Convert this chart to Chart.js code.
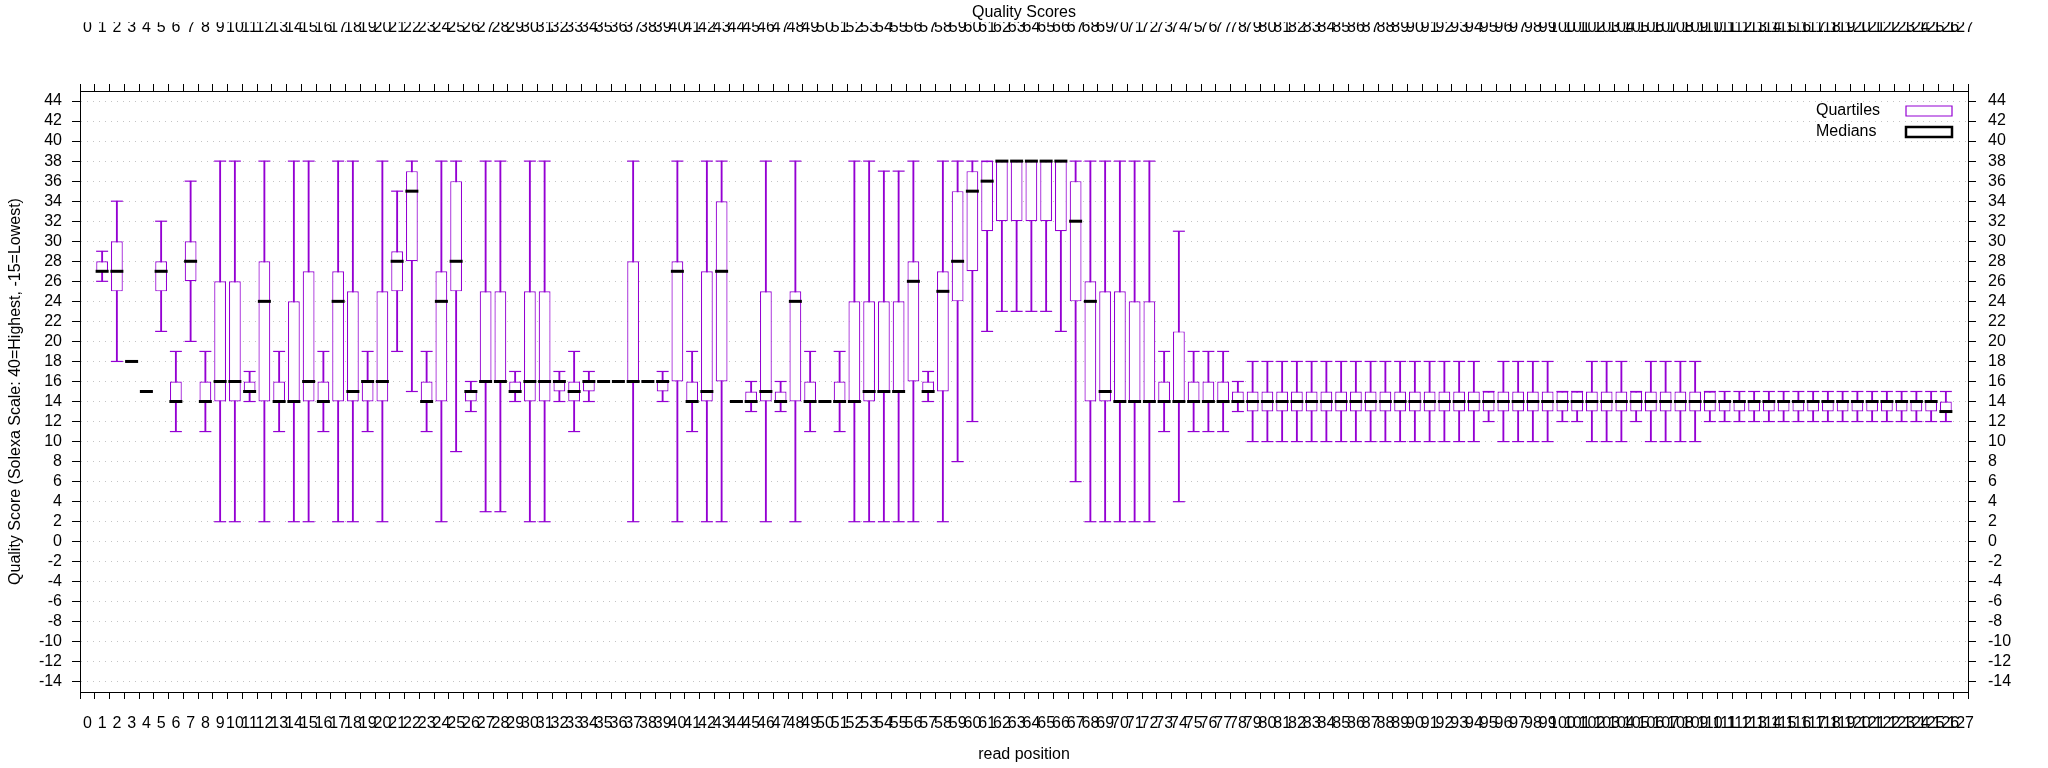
<!DOCTYPE html>
<html>
<head>
<meta charset="utf-8">
<script src="https://cdn.jsdelivr.net/npm/chart.js@4.4.1/dist/chart.umd.min.js"></script>
<style>
html,body{margin:0;padding:0;background:#ffffff;}
canvas{display:block;}
</style>
</head>
<body>
<canvas id="chart" width="2048" height="768"></canvas>
<script>
// ---- data ----
const positions = [1,2,3,4,5,6,7,8,9,10,11,12,13,14,15,16,17,18,19,20,21,22,23,24,25,26,27,28,29,30,31,32,33,34,35,36,37,38,39,40,41,42,43,44,45,46,47,48,49,50,51,52,53,54,55,56,57,58,59,60,61,62,63,64,65,66,67,68,69,70,71,72,73,74,75,76,77,78,79,80,81,82,83,84,85,86,87,88,89,90,91,92,93,94,95,96,97,98,99,100,101,102,103,104,105,106,107,108,109,110,111,112,113,114,115,116,117,118,119,120,121,122,123,124,125,126];

const whiskerLow = [
 26,18,18,15,21,11,20,11,2,2,
 14,2,11,2,2,11,2,2,11,2,
 19,15,11,2,9,13,3,3,14,2,
 2,14,11,14,16,16,2,16,14,2,
 11,2,2,14,13,2,13,2,11,14,
 11,2,2,2,2,2,14,2,8,12,
 21,23,23,23,23,21,6,2,2,2,
 2,2,11,4,11,11,11,13,10,10,
 10,10,10,10,10,10,10,10,10,10,
 10,10,10,10,12,10,10,10,10,12,
 12,10,10,10,12,10,10,10,10,12,
 12,12,12,12,12,12,12,12,12,12,
 12,12,12,12,12,12];

const quartile1 = [
 27,25,18,15,25,14,26,14,14,14,
 15,14,14,14,14,14,14,14,14,14,
 25,28,14,14,25,14,16,16,15,14,
 14,15,14,15,16,16,16,16,15,16,
 14,14,16,14,14,14,14,14,14,14,
 14,14,14,15,15,16,15,15,24,27,
 31,32,32,32,32,31,24,14,14,14,
 14,14,14,14,14,14,14,14,13,13,
 13,13,13,13,13,13,13,13,13,13,
 13,13,13,13,13,13,13,13,13,13,
 13,13,13,13,13,13,13,13,13,13,
 13,13,13,13,13,13,13,13,13,13,
 13,13,13,13,13,13];

const medians = [
 27,27,18,15,27,14,28,14,16,16,
 15,24,14,14,16,14,24,15,16,16,
 28,35,14,24,28,15,16,16,15,16,
 16,16,15,16,16,16,16,16,16,27,
 14,15,27,14,14,15,14,24,14,14,
 14,14,15,15,15,26,15,25,28,35,
 36,38,38,38,38,38,32,24,15,14,
 14,14,14,14,14,14,14,14,14,14,
 14,14,14,14,14,14,14,14,14,14,
 14,14,14,14,14,14,14,14,14,14,
 14,14,14,14,14,14,14,14,14,14,
 14,14,14,14,14,14,14,14,14,14,
 14,14,14,14,14,13];

const quartile3 = [
 28,30,18,15,28,16,30,16,26,26,
 16,28,16,24,27,16,27,25,16,25,
 29,37,16,27,36,15,25,25,16,25,
 25,16,16,16,16,16,28,16,16,28,
 16,27,34,14,15,25,15,25,16,14,
 16,24,24,24,24,28,16,27,35,37,
 38,38,38,38,38,38,36,26,25,25,
 24,24,16,21,16,16,16,15,15,15,
 15,15,15,15,15,15,15,15,15,15,
 15,15,15,15,15,15,15,15,15,15,
 15,15,15,15,15,15,15,15,15,15,
 14,14,14,14,14,14,14,14,14,14,
 14,14,14,14,14,14];

const whiskerHigh = [
 29,34,18,15,32,19,36,19,38,38,
 17,38,19,38,38,19,38,38,19,38,
 35,38,19,38,38,16,38,38,17,38,
 38,17,19,17,16,16,38,16,17,38,
 19,38,38,14,16,38,16,38,19,14,
 19,38,38,37,37,38,17,38,38,38,
 38,38,38,38,38,38,38,38,38,38,
 38,38,19,31,19,19,19,16,18,18,
 18,18,18,18,18,18,18,18,18,18,
 18,18,18,18,15,18,18,18,18,15,
 15,18,18,18,15,18,18,18,18,15,
 15,15,15,15,15,15,15,15,15,15,
 15,15,15,15,15,15];

const xTickValues = [0,1,2,3,4,5,6,7,8,9,10,11,12,13,14,15,16,17,18,19,20,21,22,23,24,25,26,27,28,29,30,31,32,33,34,35,36,37,38,39,40,41,42,43,44,45,46,47,48,49,50,51,52,53,54,55,56,57,58,59,60,61,62,63,64,65,66,67,68,69,70,71,72,73,74,75,76,77,78,79,80,81,82,83,84,85,86,87,88,89,90,91,92,93,94,95,96,97,98,99,100,101,102,103,104,105,106,107,108,109,110,111,112,113,114,115,116,117,118,119,120,121,122,123,124,125,126,127];
const yTickValues = [-14,-12,-10,-8,-6,-4,-2,0,2,4,6,8,10,12,14,16,18,20,22,24,26,28,30,32,34,36,38,40,42,44];

const chartTitle = 'Quality Scores';
const xAxisTitle = 'read position';
const yAxisTitle = 'Quality Score (Solexa Scale: 40=Highest, -15=Lowest)';
const legendLabels = ['Quartiles', 'Medians'];

// ---- styling ----
const PURPLE = '#9400d3';
const FONT = "'Liberation Sans', Arial, sans-serif";
const XTICK_FONT = "'Liberation Sans Narrow', 'Liberation Sans', sans-serif";

Chart.defaults.font.family = FONT;
Chart.defaults.color = '#000000';

// build library datasets from the arrays
const boxData = positions.map((p, i) => ({x: p, y: [quartile1[i], quartile3[i]]}));
const whiskerData = positions.map((p, i) => ({x: p, y: [whiskerLow[i], whiskerHigh[i]]}));
const medianData = positions.map((p, i) => ({x: p, y: medians[i]}));
const capData = [];
positions.forEach((p, i) => {
  capData.push({x: p, y: whiskerLow[i]});
  capData.push({x: p, y: whiskerHigh[i]});
});

const setTicks = (values) => (scale) => { scale.ticks = values.map(v => ({value: v})); };

const legendPlacer = {
  id: 'legendPlacer',
  beforeDraw(chart) {
    const lg = chart.legend;
    const ca = chart.chartArea;
    if (!lg || !ca) return;
    lg.left = ca.right - 152;
    lg.width = 141;
    lg.right = lg.left + lg.width;
    lg.top = ca.top + 7;
    lg.height = 60;
    lg.bottom = lg.top + lg.height;
  }
};

new Chart(document.getElementById('chart'), {
  type: 'bar',
  data: {
    datasets: [
      {
        type: 'scatter',
        label: legendLabels[1],
        data: medianData,
        order: 0,
        pointStyle: 'line',
        pointRadius: 6.5,
        pointHoverRadius: 6.5,
        pointBorderWidth: 3,
        pointBorderColor: '#000000',
        pointBackgroundColor: '#000000',
        borderColor: '#000000'
      },
      {
        type: 'scatter',
        label: 'caps',
        data: capData,
        order: 1,
        pointStyle: 'line',
        pointRadius: 6,
        pointHoverRadius: 6,
        pointBorderWidth: 1.2,
        pointBorderColor: PURPLE,
        borderColor: PURPLE
      },
      {
        type: 'bar',
        label: legendLabels[0],
        data: boxData,
        order: 2,
        grouped: false,
        backgroundColor: '#ffffff',
        borderColor: PURPLE,
        borderWidth: 1.2,
        borderSkipped: false,
        barPercentage: 0.8,
        categoryPercentage: 1.0
      },
      {
        type: 'bar',
        label: 'whiskers',
        data: whiskerData,
        order: 3,
        grouped: false,
        backgroundColor: PURPLE,
        borderWidth: 0,
        barThickness: 1.2
      }
    ]
  },
  options: {
    responsive: false,
    animation: false,
    devicePixelRatio: 1,
    layout: {padding: 0},
    plugins: {
      tooltip: {enabled: false},
      title: {
        display: true,
        text: chartTitle,
        color: '#000000',
        font: {family: FONT, size: 16, weight: 'normal'},
        padding: {top: 3, bottom: 0}
      },
      legend: {
        display: true,
        position: 'chartArea',
        align: 'start',
        rtl: true,
        labels: {
          boxWidth: 46,
          boxHeight: 10,
          padding: 5,
          textAlign: 'right',
          color: '#000000',
          font: {family: FONT, size: 16},
          generateLabels: () => [
            {text: legendLabels[0], fillStyle: 'rgba(255,255,255,0)', strokeStyle: PURPLE, lineWidth: 1.2, hidden: false, datasetIndex: 2, fontColor: '#000000'},
            {text: legendLabels[1], fillStyle: 'rgba(255,255,255,0)', strokeStyle: '#000000', lineWidth: 2.5, hidden: false, datasetIndex: 0, fontColor: '#000000'}
          ]
        }
      }
    },
    scales: {
      x: {
        type: 'linear',
        position: 'bottom',
        min: 0,
        max: 127,
        afterBuildTicks: setTicks(xTickValues),
        afterFit: (s) => { s.height = 76; },
        ticks: {autoSkip: false, maxRotation: 0, minRotation: 0, padding: 15, color: '#000000', font: {family: XTICK_FONT, size: 16}},
        grid: {drawOnChartArea: false, drawTicks: true, tickLength: 7, tickColor: '#000000', tickWidth: 1},
        border: {display: true, color: '#000000', width: 1},
        title: {display: true, text: xAxisTitle, color: '#000000', font: {family: FONT, size: 16}, padding: {top: 0, bottom: 4}}
      },
      x2: {
        type: 'linear',
        position: 'top',
        min: 0,
        max: 127,
        afterBuildTicks: setTicks(xTickValues),
        afterFit: (s) => { s.height = 68.8; },
        ticks: {autoSkip: false, maxRotation: 0, minRotation: 0, padding: 46.5, color: '#000000', font: {family: XTICK_FONT, size: 16}},
        grid: {drawOnChartArea: false, drawTicks: true, tickLength: 7, tickColor: '#000000', tickWidth: 1},
        border: {display: true, color: '#000000', width: 1}
      },
      y: {
        type: 'linear',
        position: 'left',
        min: -15,
        max: 45,
        afterBuildTicks: setTicks(yTickValues),
        afterFit: (s) => { s.width = 80; },
        ticks: {autoSkip: false, padding: 10, color: '#000000', font: {family: FONT, size: 16}},
        grid: {drawOnChartArea: true, color: '#c4c4c4', lineWidth: 1, drawTicks: true, tickLength: 8, tickColor: '#000000', tickWidth: 1, tickBorderDash: []},
        border: {display: true, color: '#000000', width: 1, dash: [1, 5]},
        title: {display: true, text: yAxisTitle, color: '#000000', font: {family: FONT, size: 16}, padding: {top: 6, bottom: 0}}
      },
      y2: {
        type: 'linear',
        position: 'right',
        min: -15,
        max: 45,
        afterBuildTicks: setTicks(yTickValues),
        afterFit: (s) => { s.width = 80; },
        ticks: {autoSkip: false, padding: 12, color: '#000000', font: {family: FONT, size: 16}},
        grid: {drawOnChartArea: false, drawTicks: true, tickLength: 8, tickColor: '#000000', tickWidth: 1},
        border: {display: true, color: '#000000', width: 1}
      }
    }
  },
  plugins: [legendPlacer]
});
</script>
</body>
</html>
